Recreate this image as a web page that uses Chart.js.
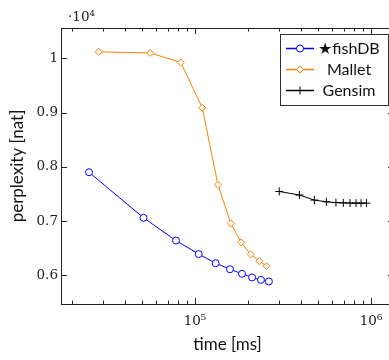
<!DOCTYPE html>
<html>
<head>
<meta charset="utf-8">
<script src="https://cdn.jsdelivr.net/npm/chart.js@4.4.1/dist/chart.umd.min.js"></script>
<style>
html, body { margin: 0; padding: 0; background: #fff; overflow: hidden; }
canvas { display: block; }
</style>
</head>
<body>
<canvas id="perplexity-graph" width="400" height="360"></canvas>
<script>
// time [ms] vs perplexity
const fishTime = [25000, 51000, 78000, 105000, 131000, 158000, 185000, 211000, 237000, 263000]
const fishPerp = [7900, 7060, 6640, 6390, 6222, 6112, 6027, 5960, 5915, 5886]

const malletTime = [28400, 55700, 83000, 110000, 135000, 160000, 183000, 207000, 232000, 255000]
const malletPerp = [10120, 10100, 9925, 9090, 7668, 6956, 6605, 6385, 6260, 6168]

const gensimTime = [301000, 392000, 477000, 558000, 632000, 696000, 760000, 822000, 878000, 942000]
const gensimPerp = [7545, 7480, 7386, 7355, 7340, 7335, 7332, 7330, 7330, 7330]

const xTickValues = [100000, 1000000]
const xTickLabels = ['10⁵', '10⁶']
const yTickValues = [6000, 7000, 8000, 9000, 10000]
const yTickLabels = ['0.6', '0.7', '0.8', '0.9', '1']

const tickFont = { family: 'DejaVu Serif', size: 13.5 }
const sansFont = 'Lato'

function points(xs, ys) {
    let out = []
    for (let i = 0; i < xs.length; i++) {
        out.push({ x: xs[i], y: ys[i] })
    }
    return out
}

// pgfplots style frame with inward ticks on all four sides
const frame = {
    id: 'frame',
    afterDraw(chart) {
        const ctx = chart.ctx
        const a = chart.chartArea
        const xs = chart.scales.x
        const ys = chart.scales.y
        ctx.save()
        ctx.strokeStyle = '#222'
        ctx.lineWidth = 1
        ctx.beginPath()
        for (let e = 4; e <= 6; e++) {
            for (let d = 1; d <= 9; d++) {
                const v = d * Math.pow(10, e)
                if (v < xs.min || v > xs.max) continue
                const px = Math.round(xs.getPixelForValue(v)) + 0.5
                const len = d === 1 ? 6 : 3.5
                ctx.moveTo(px, a.bottom)
                ctx.lineTo(px, a.bottom - len)
                ctx.moveTo(px, a.top)
                ctx.lineTo(px, a.top + len)
            }
        }
        for (let v of yTickValues) {
            const py = Math.round(ys.getPixelForValue(v)) + 0.5
            ctx.moveTo(a.left, py)
            ctx.lineTo(a.left + 6, py)
            ctx.moveTo(a.right, py)
            ctx.lineTo(a.right - 6, py)
        }
        ctx.stroke()
        ctx.strokeRect(Math.round(a.left) + 0.5, Math.round(a.top) + 0.5, Math.round(a.right - a.left), Math.round(a.bottom - a.top))

        // scale factor label
        ctx.fillStyle = '#222'
        ctx.font = '13.5px "DejaVu Serif"'
        ctx.textAlign = 'left'
        ctx.textBaseline = 'alphabetic'
        ctx.fillText('·10⁴', a.left + 7, 20.5)
        ctx.restore()
    }
}

const legendBox = {
    id: 'legendBox',
    afterDraw(chart) {
        const ctx = chart.ctx
        const a = chart.chartArea
        const sets = chart.data.datasets
        const w = 108
        const rowH = 21
        const right = a.right - 6
        const top = a.top + 6
        const left = right - w
        const h = sets.length * rowH + 8
        ctx.save()
        ctx.fillStyle = '#fff'
        ctx.fillRect(left, top, w, h)
        ctx.strokeStyle = '#333'
        ctx.lineWidth = 1
        ctx.strokeRect(Math.round(left) + 0.5, Math.round(top) + 0.5, w, h)
        sets.forEach(function (ds, i) {
            const y = top + 14.5 + i * rowH
            ctx.strokeStyle = ds.borderColor
            ctx.lineWidth = 1.5
            ctx.beginPath()
            ctx.moveTo(left + 6, y)
            ctx.lineTo(left + 34, y)
            ctx.stroke()
            ctx.fillStyle = '#fff'
            ctx.lineWidth = 1
            Chart.helpers.drawPoint(ctx, {
                pointStyle: ds.pointStyle,
                radius: ds.pointRadius,
                rotation: 0,
                borderWidth: 1
            }, left + 20, y)
            ctx.fillStyle = '#111'
            ctx.font = '16px ' + sansFont
            ctx.textAlign = 'center'
            ctx.textBaseline = 'middle'
            ctx.fillText(ds.label, left + 69, y)
        })
        ctx.restore()
    }
}

const canvas_graph = document.getElementById('perplexity-graph')
const graph = new Chart(canvas_graph, {
    type: 'line',
    data: {
        datasets: [{
            label: '★fishDB',
            data: points(fishTime, fishPerp),
            borderColor: '#0000ff',
            backgroundColor: '#ffffff',
            borderWidth: 1,
            pointStyle: 'circle',
            pointRadius: 3.5,
            pointBorderWidth: 1
        }, {
            label: 'Mallet',
            data: points(malletTime, malletPerp),
            borderColor: '#ff8000',
            backgroundColor: '#ffffff',
            borderWidth: 1,
            pointStyle: 'rectRot',
            pointRadius: 3.5,
            pointBorderWidth: 1
        }, {
            label: 'Gensim',
            data: points(gensimTime, gensimPerp),
            borderColor: '#000000',
            backgroundColor: '#000000',
            borderWidth: 1,
            pointStyle: 'cross',
            pointRadius: 4,
            pointBorderWidth: 1
        }]
    },
    options: {
        responsive: false,
        animation: false,
        events: [],
        layout: { padding: { top: 28, right: 6, left: 0, bottom: 0 } },
        plugins: {
            legend: { display: false },
            tooltip: { enabled: false }
        },
        scales: {
            x: {
                type: 'logarithmic',
                bounds: 'data',
                min: 17330,
                max: 1351000,
                grid: { display: false, drawTicks: false },
                border: { display: false },
                afterBuildTicks: function (s) {
                    s.ticks = xTickValues.map(v => ({ value: v }))
                },
                afterFit: function (s) { s.height = 56 },
                ticks: {
                    autoSkip: false,
                    maxRotation: 0,
                    padding: 9,
                    color: '#222',
                    font: tickFont,
                    callback: function (v) {
                        const i = xTickValues.indexOf(v)
                        return i >= 0 ? xTickLabels[i] : ''
                    }
                },
                title: {
                    display: true,
                    text: 'time [ms]',
                    color: '#111',
                    font: { family: sansFont, size: 17 },
                    padding: { top: 0, bottom: 5 }
                }
            },
            y: {
                type: 'linear',
                bounds: 'data',
                min: 5470,
                max: 10560,
                grid: { display: false, drawTicks: false },
                border: { display: false },
                afterBuildTicks: function (s) {
                    s.ticks = yTickValues.map(v => ({ value: v }))
                },
                afterFit: function (s) { s.width = 61 },
                ticks: {
                    autoSkip: false,
                    padding: 3,
                    color: '#222',
                    font: tickFont,
                    callback: function (v) {
                        const i = yTickValues.indexOf(v)
                        return i >= 0 ? yTickLabels[i] : ''
                    }
                },
                title: {
                    display: true,
                    text: 'perplexity [nat]',
                    color: '#111',
                    font: { family: sansFont, size: 17 },
                    padding: { top: 7, bottom: 0 }
                }
            }
        }
    },
    plugins: [frame, legendBox]
})
</script>
</body>
</html>
